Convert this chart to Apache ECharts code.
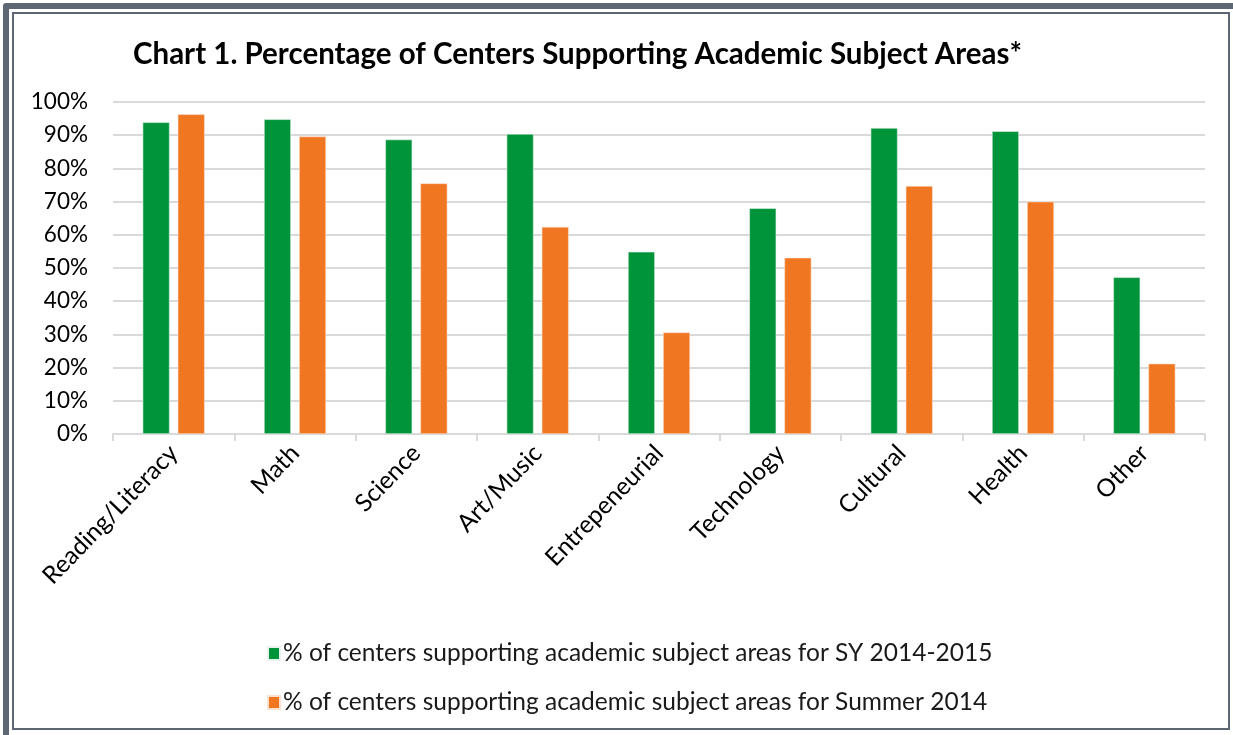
<!DOCTYPE html>
<html>
<head>
<meta charset="utf-8">
<script src="https://cdn.jsdelivr.net/npm/echarts@6/dist/echarts.min.js"></script>
<style>
  html, body { margin: 0; padding: 0; background: #fff; }
  #wrap { position: relative; width: 1233px; height: 735px; overflow: hidden; }
  #chart { position: absolute; left: 0; top: 0; width: 1233px; height: 735px; }
  .frame-outer {
    position: absolute; left: 3px; top: 3px; width: 1236px; height: 738px;
    border: 6px solid #5c6773; border-radius: 3px; box-sizing: border-box; pointer-events: none;
  }
  .frame-inner {
    position: absolute; left: 12px; top: 12px; width: 1218px; height: 718px;
    border: 2px solid #5c6773; box-sizing: border-box; pointer-events: none;
  }
</style>
</head>
<body>
<div id="wrap">
  <div id="chart"></div>
  <div class="frame-outer"></div>
  <div class="frame-inner"></div>
</div>
<script>
// data
const categories = ["Reading/Literacy", "Math", "Science", "Art/Music", "Entrepeneurial",
  "Technology", "Cultural", "Health", "Other"];
const sy20142015 = [93.9, 94.8, 88.7, 90.4, 54.9, 68.0, 92.2, 91.2, 47.2];
const summer2014 = [96.3, 89.6, 75.5, 62.4, 30.6, 53.1, 74.7, 70.0, 21.2];
const seriesNames = [
  "% of centers supporting academic subject areas for SY 2014-2015",
  "% of centers supporting academic subject areas for Summer 2014"
];
const yTicks = [0, 10, 20, 30, 40, 50, 60, 70, 80, 90, 100];

const FONT = "Lato";
const chart = echarts.init(document.getElementById("chart"));

const option = {
  animation: false,
  backgroundColor: "#fff",
  title: {
    text: "Chart 1. Percentage of Centers Supporting Academic Subject Areas*",
    left: 128,
    top: 34,
    textStyle: { fontFamily: FONT, fontWeight: "bold", fontSize: 29.5, color: "#000" }
  },
  legend: {
    orient: "vertical",
    left: 262,
    top: 636,
    itemWidth: 12,
    itemHeight: 13,
    itemGap: 24,
    icon: "rect",
    textStyle: { fontFamily: FONT, fontSize: 24.5, color: "#1a1a1a", padding: [0, 0, 0, -2] },
    data: seriesNames
  },
  grid: { left: 113, right: 28, top: 102, height: 332 },
  xAxis: {
    type: "category",
    data: categories,
    axisLine: { lineStyle: { color: "#d9d9d9", width: 2 } },
    axisTick: { show: true, length: 7, lineStyle: { color: "#d9d9d9", width: 2 } },
    axisLabel: { rotate: 46, fontFamily: FONT, fontSize: 24.5, color: "#000", margin: 15, interval: 0 }
  },
  yAxis: {
    type: "value",
    min: yTicks[0],
    max: yTicks[yTicks.length - 1],
    interval: 10,
    axisLine: { show: false },
    axisTick: { show: false },
    splitLine: { lineStyle: { color: "#d9d9d9", width: 2 } },
    axisLabel: { fontFamily: FONT, fontSize: 22.5, color: "#000", margin: 25, formatter: "{value}%" }
  },
  series: [
    {
      name: seriesNames[0],
      type: "bar",
      data: sy20142015,
      barWidth: 27,
      barGap: "30%",
      itemStyle: { color: "#00943a", borderColor: "#e8f3ec", borderWidth: 0.6 }
    },
    {
      name: seriesNames[1],
      type: "bar",
      data: summer2014,
      barWidth: 27,
      barGap: "30%",
      itemStyle: { color: "#f07622", borderColor: "#fbe2d0", borderWidth: 0.6 }
    }
  ]
};

chart.setOption(option);
</script>
</body>
</html>
